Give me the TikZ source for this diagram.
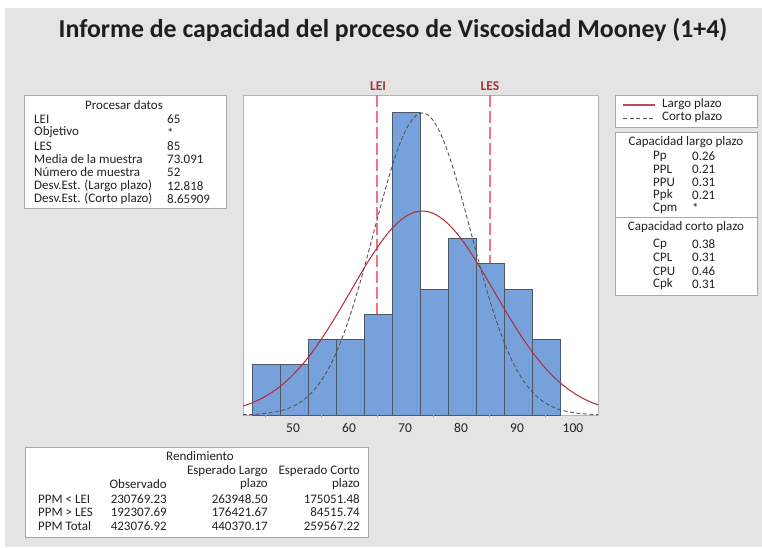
\documentclass[tikz,border=0pt]{standalone}
\usepackage{fontspec}
\setmainfont{Carlito}
\definecolor{bgc}{HTML}{E4E4E4}
\definecolor{titlec}{HTML}{1E1E1E}
\definecolor{framec}{HTML}{B4B4B4}
\definecolor{boxc}{HTML}{A8A8A8}
\definecolor{barfill}{HTML}{76A1DA}
\definecolor{barline}{HTML}{4C5866}
\definecolor{specc}{HTML}{F07478}
\definecolor{speclab}{HTML}{A83240}
\definecolor{longc}{HTML}{B52A34}
\definecolor{shortc}{HTML}{555555}
\definecolor{txt}{HTML}{222222}
\begin{document}
\begin{tikzpicture}[x=1pt,y=-1pt,
  txtf/.style={font=\fontsize{13}{14}\selectfont, text=txt, inner sep=0},
  lab/.style={txtf, anchor=west},
  rlab/.style={txtf, anchor=east},
  clab/.style={txtf, anchor=center},
  infobox/.style={draw=boxc, fill=white, line width=0.8pt},
  bar/.style={draw=barline, fill=barfill, line width=0.8pt},
  specline/.style={draw=specc, line width=2.6pt, dash pattern=on 12pt off 4pt},
  longcurve/.style={draw=longc, line width=1.0pt},
  shortcurve/.style={draw=shortc, line width=0.9pt, dash pattern=on 4pt off 2.5pt},
  ticklab/.style={font=\fontsize{13.5}{15}\selectfont, text=txt, inner sep=0}]
\useasboundingbox (0,0) rectangle (762,547);
\fill[white] (0,0) rectangle (762,547);
\fill[bgc] (5,8) rectangle (762,547);
% title
\node[font=\bfseries\fontsize{25.8}{28}\selectfont, text=titlec, inner sep=0] (title) at (393,30) {Informe de capacidad del proceso de Viscosidad Mooney (1+4)};
% plot area
\draw[draw=framec, fill=white, line width=0.8pt] (243,95) rectangle (598,415);
% spec limits
\draw[specline] (377,95) -- (377,415);
\draw[specline] (490,95) -- (490,415);
\node[font=\bfseries\fontsize{13.5}{15}\selectfont, text=speclab, inner sep=0] (lei) at (378,86) {LEI};
\node[font=\bfseries\fontsize{13.5}{15}\selectfont, text=speclab, inner sep=0] (les) at (490,86) {LES};
% bars
\foreach \c [count=\i from 0] in {2,2,3,3,4,12,5,7,6,5,3}
  \draw[bar] ({252+28*\i},415) rectangle ({280+28*\i},{415-25.2*\c});
% curves
\begin{scope}
\clip (243,95) rectangle (598,415);
\draw[longcurve] plot[domain=41:104.5, samples=120, smooth]
  ({293+5.6*(\x-50)}, {415-203.9*exp(-((\x-73.091)^2)/(2*12.818*12.818))});
\draw[shortcurve] plot[domain=41:104.5, samples=120, smooth]
  ({293+5.6*(\x-50)}, {415-301.9*exp(-((\x-73.091)^2)/(2*8.65909*8.65909))});
\end{scope}
% ticks and labels
\foreach \v in {45,55,...,95}
  \draw[draw=framec, line width=0.8pt] ({293+5.6*(\v-50)},415) -- ({293+5.6*(\v-50)},418);
\foreach \v in {50,60,...,100}
  \node[ticklab] (t\v) at ({293+5.6*(\v-50)},428) {\v};
% left data box
\draw[infobox] (24,95) rectangle (226,208);
\node[clab] (pd) at (124,105) {Procesar datos};
\node[lab] (l1) at (34,119) {LEI};             \node[lab] (v1) at (167,119) {65};
\node[lab] (l2) at (34,132.5) {Objetivo};      \node[lab] (v2) at (167,132.5) {*};
\node[lab] (l3) at (34,146) {LES};             \node[lab] (v3) at (167,146) {85};
\node[lab] (l4) at (34,159) {Media de la muestra}; \node[lab] (v4) at (167,159) {73.091};
\node[lab] (l5) at (34,172.5) {Número de muestra}; \node[lab] (v5) at (167,172.5) {52};
\node[lab] (l6) at (34,186) {Desv.Est. (Largo plazo)}; \node[lab] (v6) at (167,186) {12.818};
\node[lab] (l7) at (34,199) {Desv.Est. (Corto plazo)}; \node[lab] (v7) at (167,199) {8.65909};
% legend box
\draw[infobox] (615,95) rectangle (757,127);
\draw[longcurve, draw=longc!85!white, line width=1.6pt] (623,105) -- (655,105);
\draw[shortcurve] (623,118) -- (655,118);
\node[lab] (lg1) at (662,104) {Largo plazo};
\node[lab] (lg2) at (662,117) {Corto plazo};
% capability box
\draw[infobox] (615,132) rectangle (757,295);
\draw[draw=boxc, line width=0.8pt] (615,217) -- (757,217);
\node[clab] (clp) at (686,142) {Capacidad largo plazo};
\node[lab] (c1) at (653,156) {Pp};  \node[lab] (d1) at (692,156) {0.26};
\node[lab] (c2) at (653,169) {PPL}; \node[lab] (d2) at (692,169) {0.21};
\node[lab] (c3) at (653,182) {PPU}; \node[lab] (d3) at (692,182) {0.31};
\node[lab] (c4) at (653,195) {Ppk}; \node[lab] (d4) at (692,195) {0.21};
\node[lab] (c5) at (653,208) {Cpm}; \node[lab] (d5) at (692,208) {*};
\node[clab] (ccp) at (686,227) {Capacidad corto plazo};
\node[lab] (e1) at (653,244) {Cp};  \node[lab] (f1) at (692,244) {0.38};
\node[lab] (e2) at (653,257) {CPL}; \node[lab] (f2) at (692,257) {0.31};
\node[lab] (e3) at (653,271) {CPU}; \node[lab] (f3) at (692,271) {0.46};
\node[lab] (e4) at (653,284) {Cpk}; \node[lab] (f4) at (692,284) {0.31};
% bottom performance box
\draw[infobox] (25,447) rectangle (368,537);
\node[clab] (ren) at (200,456) {Rendimiento};
\node[rlab] (h1) at (268,471) {Esperado Largo};
\node[rlab] (h2) at (360,471) {Esperado Corto};
\node[rlab] (h3) at (167,484) {Observado};
\node[rlab] (h4) at (268,484) {plazo};
\node[rlab] (h5) at (360,484) {plazo};
\node[lab] (r1) at (38,499) {PPM < LEI};
\node[rlab] (o1) at (167,499) {230769.23};
\node[rlab] (p1) at (268,499) {263948.50};
\node[rlab] (q1) at (360,499) {175051.48};
\node[lab] (r2) at (38,512) {PPM > LES};
\node[rlab] (o2) at (167,512) {192307.69};
\node[rlab] (p2) at (268,512) {176421.67};
\node[rlab] (q2) at (360,512) {84515.74};
\node[lab] (r3) at (38,526) {PPM Total};
\node[rlab] (o3) at (167,526) {423076.92};
\node[rlab] (p3) at (268,526) {440370.17};
\node[rlab] (q3) at (360,526) {259567.22};
\end{tikzpicture}
\end{document}
